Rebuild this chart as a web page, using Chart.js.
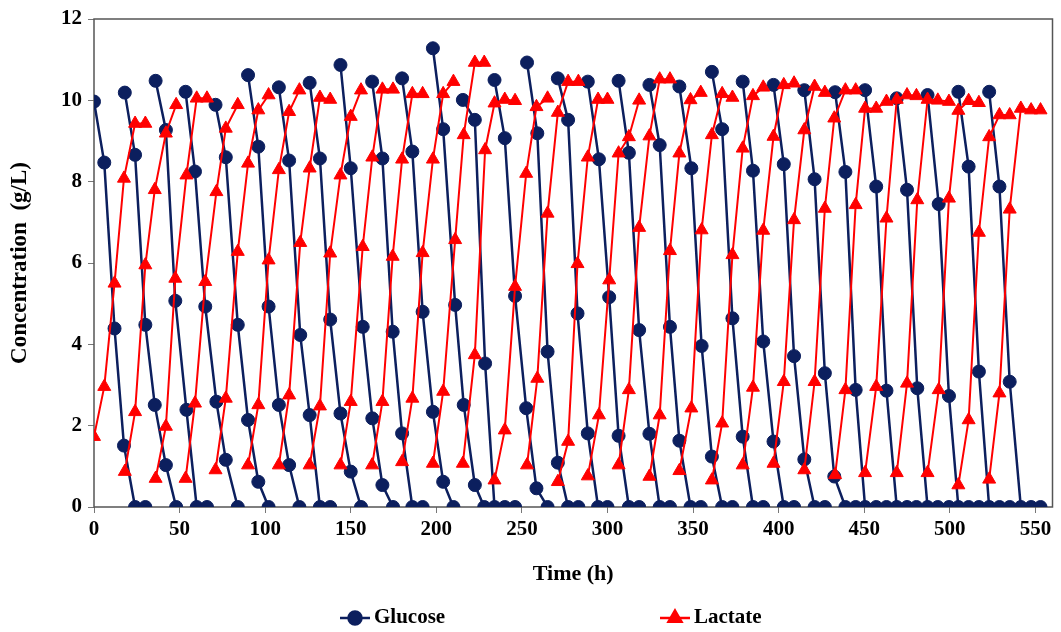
<!DOCTYPE html>
<html lang="en">
<head>
    <meta charset="UTF-8">
    <script src="https://cdn.jsdelivr.net/npm/chart.js"></script>
    <title>Glucose and lactate</title>
    <style>
        body { margin: 0; background: #ffffff; }
        #wrap { width: 1061px; height: 632px; }
    </style>
</head>
<body>

<div id="wrap"><canvas id="myChart" width="1061" height="632"></canvas></div>

<script>

    // sampling times of each cycle (h)
    const cycleTimes = [
        [0, 6, 12, 17.5, 24, 30],
        [18, 24, 30, 35.5, 42, 48],
        [36, 42, 47.5, 54, 60, 66],
        [53.5, 59, 65, 71.5, 77, 84],
        [71, 77, 84, 90, 96, 102],
        [90, 96, 102, 108, 114, 120],
        [108, 114, 120.5, 126, 132, 138],
        [126, 132, 138, 144, 150, 156],
        [144, 150, 157, 162.6, 168.5, 174.7],
        [162.5, 168.5, 174.5, 180, 186, 192],
        [180, 186, 192, 198, 204, 210],
        [198, 204, 211, 216, 222.5, 228],
        [215.5, 222.5, 228.5, 234, 240, 246],
        [234, 240, 246, 252.5, 258.5, 265],
        [253, 259, 265, 271, 277, 283],
        [271, 277, 282.5, 288.5, 294.5, 300],
        [288.5, 295, 301, 306.5, 312.5, 318.5],
        [306.5, 312.5, 318.5, 324.5, 330.5, 336.5],
        [324.5, 330.5, 336.5, 342, 348.5, 354.5],
        [342, 349, 355, 361, 367, 373],
        [361, 367, 373, 379, 385, 391],
        [379, 385, 391, 397, 403, 409],
        [397, 403, 409, 415, 421, 427],
        [415, 421, 427, 432.5, 439, 445],
        [433, 439, 445, 450.5, 457, 463],
        [450.5, 457, 463, 469, 475, 480.5],
        [469, 475, 481, 487, 493, 499.5],
        [487, 493.5, 499.5, 505, 511, 517],
        [505, 511, 517, 523, 529, 535],
        [523, 529, 535, 541.5, 547.5, 553]
    ];

    // glucose (g/L), one row per cycle
    const glucoseValues = [
        [9.97, 8.47, 4.39, 1.51, 0, 0],
        [10.19, 8.66, 4.48, 2.51, 1.03, 0],
        [10.48, 9.27, 5.07, 2.39, 0, 0],
        [10.21, 8.25, 4.93, 2.59, 1.16, 0],
        [9.89, 8.6, 4.48, 2.14, 0.62, 0],
        [10.62, 8.86, 4.93, 2.51, 1.03, 0],
        [10.32, 8.52, 4.23, 2.26, 0, 0],
        [10.43, 8.57, 4.61, 2.3, 0.87, 0],
        [10.87, 8.33, 4.43, 2.18, 0.54, 0],
        [10.46, 8.57, 4.31, 1.81, 0, 0],
        [10.54, 8.74, 4.8, 2.34, 0.62, 0],
        [11.28, 9.29, 4.97, 2.51, 0.54, 0],
        [10.01, 9.52, 3.53, 0, 0, 0],
        [10.5, 9.07, 5.19, 2.43, 0.46, 0],
        [10.93, 9.19, 3.82, 1.09, 0, 0],
        [10.54, 9.52, 4.76, 1.81, 0, 0],
        [10.46, 8.55, 5.16, 1.75, 0, 0],
        [10.48, 8.71, 4.35, 1.8, 0, 0],
        [10.38, 8.9, 4.43, 1.63, 0, 0],
        [10.34, 8.33, 3.96, 1.24, 0, 0],
        [10.7, 9.29, 4.64, 1.73, 0, 0],
        [10.46, 8.27, 4.07, 1.61, 0, 0],
        [10.38, 8.43, 3.71, 1.17, 0, 0],
        [10.25, 8.06, 3.29, 0.75, 0, 0],
        [10.2, 8.24, 2.88, 0, 0, 0],
        [10.25, 7.88, 2.86, 0, 0, 0],
        [10.05, 7.8, 2.92, 0, 0, 0],
        [10.13, 7.45, 2.73, 0, 0, 0],
        [10.21, 8.37, 3.33, 0, 0, 0],
        [10.21, 7.88, 3.08, 0, 0, 0]
    ];

    // lactate (g/L), one row per cycle
    const lactateValues = [
        [1.73, 2.96, 5.5, 8.08, 9.43, 9.43],
        [0.87, 2.34, 5.95, 7.8, 9.19, 9.89],
        [0.7, 1.98, 5.62, 8.16, 10.05, 10.05],
        [0.7, 2.55, 5.54, 7.75, 9.31, 9.89],
        [0.91, 2.67, 6.28, 8.45, 9.76, 10.13],
        [1.03, 2.51, 6.07, 8.29, 9.72, 10.25],
        [1.03, 2.75, 6.5, 8.33, 10.07, 10.02],
        [1.03, 2.48, 6.24, 8.16, 9.6, 10.25],
        [1.03, 2.59, 6.4, 8.6, 10.27, 10.27],
        [1.03, 2.59, 6.16, 8.55, 10.16, 10.16],
        [1.11, 2.67, 6.25, 8.55, 10.16, 10.46],
        [1.07, 2.84, 6.57, 9.15, 10.93, 10.93],
        [1.07, 3.74, 8.78, 9.93, 10.02, 9.99],
        [0.66, 1.89, 5.42, 8.2, 9.84, 10.05],
        [1.03, 3.16, 7.22, 9.7, 10.46, 10.46],
        [0.62, 1.61, 5.98, 8.6, 10.02, 10.02],
        [0.76, 2.26, 5.58, 8.7, 9.1, 10.0],
        [1.03, 2.88, 6.87, 9.12, 10.52, 10.52],
        [0.75, 2.26, 6.3, 8.7, 10.01, 10.19],
        [0.89, 2.43, 6.81, 9.15, 10.16, 10.07],
        [0.66, 2.06, 6.2, 8.82, 10.11, 10.32],
        [1.03, 2.94, 6.8, 9.11, 10.38, 10.42],
        [1.07, 3.08, 7.06, 9.27, 10.34, 10.19],
        [0.91, 3.08, 7.34, 9.56, 10.25, 10.25],
        [0.79, 2.88, 7.43, 9.8, 9.8, 9.97],
        [0.84, 2.96, 7.1, 10.02, 10.13, 10.11],
        [0.84, 3.04, 7.55, 10.02, 10.0, 9.97],
        [0.84, 2.88, 7.59, 9.75, 9.99, 9.94],
        [0.54, 2.14, 6.75, 9.1, 9.64, 9.64],
        [0.68, 2.8, 7.32, 9.8, 9.76, 9.76]
    ];

    const xTickValues = [0, 50, 100, 150, 200, 250, 300, 350, 400, 450, 500, 550];
    const yTickValues = [0, 2, 4, 6, 8, 10, 12];

    const navy = '#0c1f5e';
    const red = '#ff0000';
    const serif = "'Liberation Serif', 'Times New Roman', serif";

    // one line piece per cycle, broken by a null point
    function toPoints(values) {
        const pts = [];
        cycleTimes.forEach((times, i) => {
            times.forEach((t, j) => pts.push({x: t, y: values[i][j]}));
            pts.push({x: times[times.length - 1], y: null});
        });
        return pts;
    }

    const framePlugin = {
        id: 'frame',
        beforeDatasetsDraw: (chart) => {
            const {ctx, chartArea} = chart;
            ctx.save();
            ctx.strokeStyle = '#555555';
            ctx.lineWidth = 1.5;
            ctx.strokeRect(chartArea.left, chartArea.top,
                chartArea.right - chartArea.left, chartArea.bottom - chartArea.top);
            ctx.restore();
        }
    };

    const legendPlugin = {
        id: 'bottomLegend',
        afterDraw: (chart) => {
            const {ctx} = chart;
            const y = 618;
            const items = [
                {label: 'Glucose', color: navy, x: 340, style: 'circle'},
                {label: 'Lactate', color: red, x: 660, style: 'triangle'}
            ];
            ctx.save();
            items.forEach(item => {
                ctx.strokeStyle = item.color;
                ctx.fillStyle = item.color;
                ctx.lineWidth = 2.5;
                ctx.beginPath();
                ctx.moveTo(item.x, y);
                ctx.lineTo(item.x + 30, y);
                ctx.stroke();
                Chart.helpers.drawPoint(ctx, {pointStyle: item.style, radius: item.style === 'circle' ? 6.5 : 7.5, borderWidth: 1}, item.x + 15, y);
                ctx.fillStyle = '#000000';
                ctx.font = 'bold 21px ' + serif;
                ctx.textBaseline = 'middle';
                ctx.textAlign = 'left';
                ctx.fillText(item.label, item.x + 34, y);
            });
            ctx.restore();
        }
    };

    const ctx = document.getElementById('myChart').getContext('2d');

    const chart = new Chart(ctx, {
        type: 'line',
        data: {
            datasets: [{
                label: 'Glucose',
                data: toPoints(glucoseValues),
                borderColor: navy,
                backgroundColor: navy,
                borderWidth: 2.5,
                pointStyle: 'circle',
                pointRadius: 6.5,
                pointBorderWidth: 1,
                order: 2
            }, {
                label: 'Lactate',
                data: toPoints(lactateValues),
                borderColor: red,
                backgroundColor: red,
                borderWidth: 2,
                pointStyle: 'triangle',
                pointRadius: 7.5,
                pointBorderWidth: 1,
                order: 1
            }]
        },
        options: {
            responsive: false,
            animation: false,
            events: [],
            layout: {
                padding: {top: 19, right: 8, bottom: 40, left: 0}
            },
            plugins: {
                legend: {display: false},
                tooltip: {enabled: false}
            },
            scales: {
                x: {
                    type: 'linear',
                    min: 0,
                    max: 560,
                    afterFit: (scale) => { scale.height = 85; },
                    afterBuildTicks: (scale) => { scale.ticks = xTickValues.map(v => ({value: v})); },
                    grid: {drawOnChartArea: false, tickLength: 6, color: '#777777'},
                    border: {display: false},
                    ticks: {
                        color: '#000000',
                        padding: 4,
                        maxRotation: 0,
                        font: {family: serif, size: 21, weight: 'bold'}
                    },
                    title: {
                        display: true,
                        text: 'Time (h)',
                        color: '#000000',
                        padding: {top: 0, bottom: 4},
                        font: {family: serif, size: 22, weight: 'bold'}
                    }
                },
                y: {
                    min: 0,
                    max: 12,
                    afterFit: (scale) => { scale.width = 94; },
                    afterBuildTicks: (scale) => { scale.ticks = yTickValues.map(v => ({value: v})); },
                    grid: {drawOnChartArea: false, tickLength: 6, color: '#777777'},
                    border: {display: false},
                    ticks: {
                        color: '#000000',
                        padding: 6,
                        font: {family: serif, size: 21, weight: 'bold'}
                    },
                    title: {
                        display: true,
                        text: 'Concentration  (g/L)',
                        color: '#000000',
                        padding: {top: 6, bottom: 0},
                        font: {family: serif, size: 23, weight: 'bold'}
                    }
                }
            }
        },
        plugins: [framePlugin, legendPlugin],
    });

</script>

</body>
</html>
